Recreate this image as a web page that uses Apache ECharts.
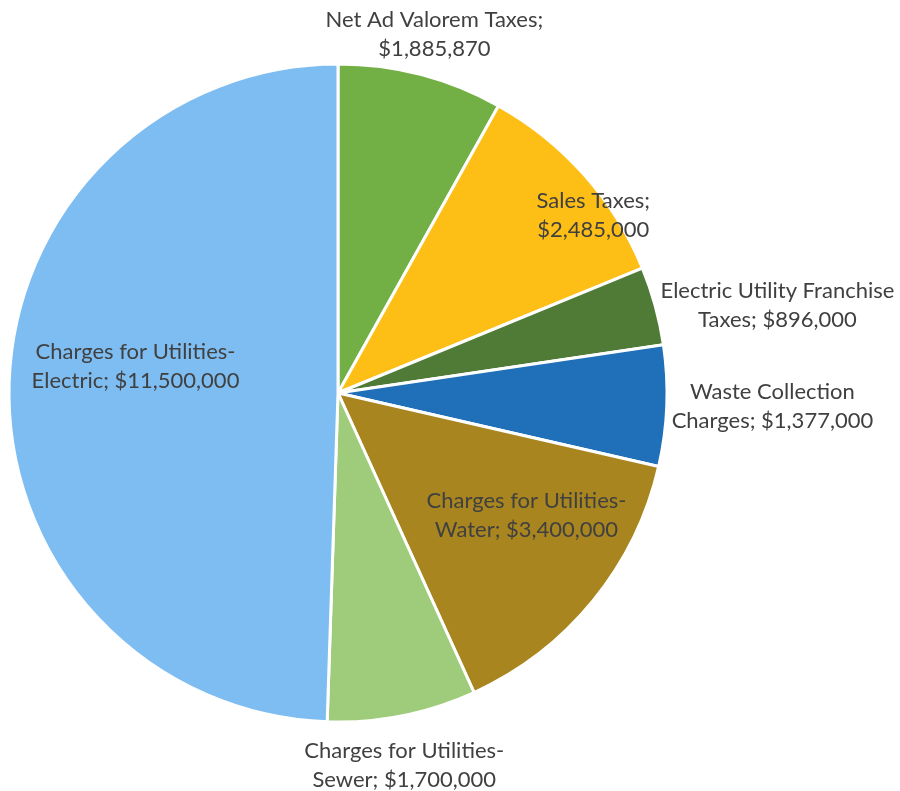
<!DOCTYPE html>
<html>
<head>
<meta charset="utf-8">
<script src="https://cdn.jsdelivr.net/npm/echarts@6/dist/echarts.min.js"></script>
<style>html,body{margin:0;padding:0;background:#fff}#c{width:900px;height:791px}</style>
</head>
<body>
<div id="c"></div>
<script>
const categories = [
  'Net Ad Valorem Taxes',
  'Sales Taxes',
  'Electric Utility Franchise Taxes',
  'Waste Collection Charges',
  'Charges for Utilities-Water',
  'Charges for Utilities-Sewer',
  'Charges for Utilities-Electric'
];
const labelTexts = [
  'Net Ad Valorem Taxes;\n$1,885,870',
  'Sales Taxes;\n$2,485,000',
  'Electric Utility Franchise\nTaxes; $896,000',
  'Waste Collection\nCharges; $1,377,000',
  'Charges for Utilities-\nWater; $3,400,000',
  'Charges for Utilities-\nSewer; $1,700,000',
  'Charges for Utilities-\nElectric; $11,500,000'
];
const values = [1885870, 2485000, 896000, 1377000, 3400000, 1700000, 11500000];
const colors = ['#72AF45', '#FDBE16', '#507B36', '#1F70B8', '#A8851F', '#9FCC7A', '#7EBDF2'];

// label placement style: radius factor and angle nudge (degrees) per label
const labelRadiusFactor = [1.128, 0.945, 1.362, 1.321, 0.683, 1.149, 0.621];
const labelAngleNudge = [0.45, 6.75, 4.1, -0.5, -6.24, 1.18, 6.66];

const CX = 338, CY = 393, R = 329;
const total = values.reduce((a, b) => a + b, 0);
const mids = [];
let acc = 0;
values.forEach(v => { mids.push((acc + v / 2) / total * 360); acc += v; });

const chart = echarts.init(document.getElementById('c'));
chart.setOption({
  animation: false,
  series: [{
    type: 'pie',
    center: [CX, CY],
    radius: R,
    startAngle: 90,
    clockwise: true,
    avoidLabelOverlap: false,
    itemStyle: { borderColor: '#ffffff', borderWidth: 3 },
    label: {
      show: true,
      position: 'inside',
      fontFamily: 'Lato',
      fontSize: 22,
      lineHeight: 29,
      color: '#404040',
      align: 'center',
      formatter: p => labelTexts[p.dataIndex]
    },
    labelLine: { show: false },
    emphasis: { disabled: true },
    labelLayout: function (p) {
      const i = p.dataIndex;
      const a = (mids[i] + labelAngleNudge[i]) * Math.PI / 180;
      const rr = R * labelRadiusFactor[i];
      return {
        x: CX + rr * Math.sin(a),
        y: CY - rr * Math.cos(a),
        align: 'center',
        verticalAlign: 'middle'
      };
    },
    data: categories.map((c, i) => ({ name: c, value: values[i], itemStyle: { color: colors[i] } }))
  }]
});
</script>
</body>
</html>
